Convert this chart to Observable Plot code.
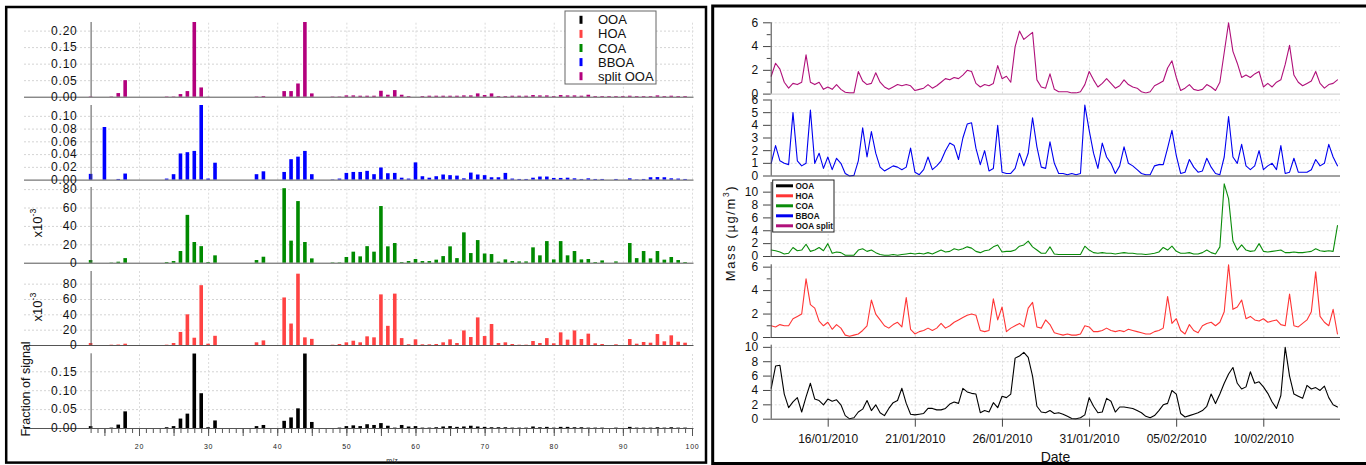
<!DOCTYPE html>
<html><head><meta charset="utf-8">
<script src="https://cdn.jsdelivr.net/npm/d3@7"></script>
<script src="https://cdn.jsdelivr.net/npm/@observablehq/plot@0.6"></script>
<style>
body{margin:0;background:#fff;}
#root{position:relative;width:1366px;height:465px;overflow:hidden;background:#fff;}
#root svg{position:absolute;left:0;top:0;max-width:none;}
</style></head>
<body><div id="root"></div>
<script>
// ---------------- DATA ----------------
const mzValues = d3.range(13, 101); // m/z 13..100
const mzGrid = [20, 30, 40, 50, 60, 70, 80, 90, 100];
const mzMajor = [15, 20, 25, 30, 35, 40, 45, 50, 55, 60, 65, 70, 75, 80, 85, 90, 95, 100];

const ooaSpec = [0.005,0,0,0.001,0.009,0.044,0,0,0,0,
 0,0.002,0.005,0.025,0.038,0.197,0.092,0.002,0.020,0,
 0,0,0,0,0.005,0.008,0,0,0.019,0.028,
 0.052,0.197,0.016,0,0,0,0.001,0.005,0.007,0.005,
 0.010,0.008,0.013,0.006,0.001,0.008,0.004,0.005,0.001,0.001,
 0.002,0.004,0.005,0.003,0.004,0.006,0.004,0.003,0.002,0.002,
 0.002,0.001,0.001,0.001,0.004,0.002,0.003,0.001,0.003,0.003,
 0.002,0.002,0.001,0.001,0.001,0,0.001,0,0.003,0.001,
 0.001,0.001,0.002,0.001,0.002,0.001,0.001,0];
const hoaSpec = [2.6,0,0,0.4,0.6,1.7,0,0,0,0,
 0,0.4,2.6,17,40,9.5,78,1.7,12,0,
 0,0,0,0,3.5,6,0,0,62,28,
 93,10,8,0,0,0.4,1.3,3.5,5.6,3.5,
 11.3,10,66,25,67,9,1,7.4,0.9,0.9,
 1.3,3.5,7.4,2.6,19,10.4,36,11.7,27.4,2.6,
 3.5,1.3,0.4,0.4,5.2,2.6,9,2.2,16.5,7,
 19,7.8,14.8,2.2,1.3,0,0.9,0,7.8,1.7,
 3.9,3,14.3,4.8,12.6,4.3,3,0];
const coaSpec = [2.9,0,0,0.3,1.1,5,0,0,0,0,
 0,0.7,1.8,12.7,52,22.5,18,0.7,8,0,
 0,0,0,0,2.9,6.5,0,0,81,24,
 67,22.5,4.7,0,0,0.4,0.4,6.2,12,6.9,
 18,12,61.6,17.8,21.4,0.7,1.8,4,1.8,1.8,
 3.3,7.2,17.8,5,33,10.5,24.6,10,9.4,1.1,
 3.6,1.8,1.4,1.4,16.7,8,23.5,3.6,23.5,8,
 12.7,3.6,4,0.7,2.5,0,1.4,0,21.4,5,
 12.7,4.7,12.7,3.3,6.2,2.9,0.7,0];
const bboaSpec = [0.009,0,0.0825,0,0.001,0.0095,0,0,0,0,
 0,0.0016,0.0085,0.041,0.043,0.045,0.117,0.0016,0.0265,0,
 0,0,0,0,0.0085,0.013,0,0,0.012,0.032,
 0.036,0.045,0.0085,0,0,0.0005,0.0016,0.0105,0.012,0.012,
 0.0137,0.0085,0.019,0.010,0.0105,0.003,0.0016,0.027,0.0053,0.003,
 0.0053,0.008,0.007,0.0063,0.002,0.011,0.008,0.007,0.0037,0.0037,
 0.0105,0.0016,0.001,0.001,0.003,0.0048,0.0048,0.0026,0.0026,0.003,
 0.002,0.001,0.002,0.001,0.001,0,0.001,0,0.002,0.0005,
 0.001,0.0037,0.004,0.0037,0.002,0.0016,0.001,0];
const splitSpec = [0.001,0,0,0.001,0.011,0.050,0,0,0,0,
 0,0.001,0.001,0.008,0.017,0.226,0.028,0.0005,0,0,
 0,0,0,0,0.001,0.002,0,0,0.017,0.017,
 0.040,0.226,0.010,0,0,0.001,0.001,0.004,0.004,0.003,
 0.003,0.003,0.018,0.006,0.020,0.006,0.002,0,0.002,0.003,
 0.003,0.003,0.003,0.003,0.004,0.004,0.010,0.005,0.010,0.002,
 0.002,0.003,0.003,0.003,0.005,0.004,0.004,0.002,0.005,0.004,
 0.004,0.003,0.006,0.002,0.002,0.002,0.002,0.002,0.003,0.002,
 0.002,0.002,0.004,0.002,0.003,0.002,0.002,0];

// time series, 6-hourly samples starting 12/01/2010 17:30 UTC
const tsStart = "2010-01-12T17:30:00Z";
const tsStepHours = 6;
const tsEnd = "2010-02-14T09:40:00Z";
const dateTickLabels = ["16/01/2010","21/01/2010","26/01/2010","31/01/2010","05/02/2010","10/02/2010"];

const splitTS = [1.5,2.6,2.1,1.0,0.5,0.9,0.8,1.0,3.3,1.0,
 0.8,1.0,0.4,0.6,0.4,0.8,0.4,0.15,0.1,0.1,
 1.9,1.1,0.8,0.9,1.8,1.0,0.6,0.4,0.6,0.8,
 0.7,0.8,0.7,0.3,0.4,0.5,0.8,0.5,0.7,1.0,
 1.3,1.2,1.4,1.3,1.6,2.0,1.9,0.9,0.6,0.8,
 0.7,0.9,2.4,1.3,1.5,1.0,4.0,5.3,4.6,4.9,
 5.2,1.2,0.6,0.5,1.7,0.4,0.2,0.2,0.2,0.1,
 0.1,0.2,0.8,1.9,1.2,0.6,0.9,1.3,0.9,0.5,
 0.7,1.2,0.8,0.6,0.5,0.2,0.1,0.2,0.7,0.9,
 1.1,2.2,2.8,1.4,0.3,0.5,0.8,0.4,0.3,0.4,
 0.8,0.6,0.3,1.0,3.5,6.0,3.6,2.6,1.4,1.6,
 1.4,1.7,1.9,0.6,0.9,0.6,1.0,1.2,2.5,4.1,
 1.6,1.0,0.7,0.9,1.1,1.9,0.9,0.5,0.8,0.9,1.2];
const bboaTS = [1.0,2.4,1.2,1.0,0.9,5.0,1.2,0.8,1.0,5.2,
 1.0,1.8,0.6,1.5,0.5,1.4,1.0,0.2,0.0,0.05,
 1.2,3.8,1.5,3.5,1.8,0.7,0.4,0.6,0.8,0.7,
 0.5,0.7,2.2,0.3,0.1,0.5,1.5,0.5,0.8,1.2,
 2.0,2.6,2.4,1.3,3.0,4.1,4.2,2.2,0.9,2.0,
 0.4,0.6,4.0,0.3,0.2,0.2,0.6,1.8,0.8,1.8,
 4.6,2.3,0.7,0.6,2.7,1.0,0.2,0.2,0.1,0.2,
 0.1,0.2,5.6,3.6,1.8,0.6,2.6,1.5,1.0,0.2,
 0.8,2.3,1.0,0.8,0.5,0.2,0.1,0.1,0.8,0.9,
 0.9,2.2,3.6,1.6,0.2,0.3,1.3,0.7,0.3,0.4,
 1.4,0.7,0.2,0.1,1.5,4.7,1.5,1.0,2.5,0.8,
 0.5,0.8,2.0,0.5,0.8,1.0,0.5,2.4,0.2,0.3,
 1.4,0.3,0.3,0.3,0.5,1.3,0.8,1.0,2.5,1.5,0.8];
const coaTS = [1.0,0.9,0.7,0.4,0.5,1.4,0.9,1.0,1.9,0.8,
 1.0,1.4,0.9,2.0,0.5,0.7,0.6,0.2,0.2,0.2,
 1.0,1.2,0.8,1.0,0.6,0.3,0.2,0.2,0.3,0.2,
 0.3,0.4,0.5,0.4,0.5,0.4,0.6,0.4,0.7,1.0,
 0.7,0.8,1.2,1.0,1.2,1.5,1.3,0.8,0.6,0.9,
 1.0,1.5,1.8,0.7,0.8,0.8,1.0,1.6,1.8,2.4,
 1.5,1.0,0.5,0.5,1.5,0.4,0.3,0.3,0.3,0.3,
 0.3,0.3,1.6,1.0,0.6,0.5,0.6,0.5,0.5,0.4,
 0.5,0.6,0.5,0.5,0.4,0.4,0.3,0.4,0.5,0.7,
 1.4,1.0,1.6,0.8,0.5,0.5,0.6,0.4,0.4,0.6,
 1.0,0.6,0.4,1.5,11.3,9.0,2.4,1.0,1.8,1.0,
 0.8,0.9,2.0,0.8,0.7,0.8,0.9,1.0,0.6,0.6,
 0.7,0.6,0.6,0.7,0.8,1.2,0.9,0.8,0.9,0.8,4.8];
const hoaTS = [1.0,0.9,1.1,1.0,1.0,1.6,1.8,2.0,5.0,2.8,
 2.5,1.4,1.0,1.3,0.7,1.1,0.8,0.2,0.1,0.2,
 0.3,0.6,1.0,3.2,2.0,1.5,1.0,0.8,1.1,1.3,
 0.9,3.4,0.7,0.3,0.5,0.6,0.8,0.6,0.8,1.2,
 0.8,1.0,1.3,1.5,1.7,1.9,2.0,1.9,0.6,0.5,
 0.6,3.3,1.5,2.6,0.5,0.8,1.0,1.2,0.9,2.5,
 3.0,0.9,0.8,1.5,1.1,0.4,0.3,0.2,0.3,0.2,
 0.2,0.3,1.0,0.9,0.5,0.5,0.6,0.8,0.6,0.5,
 0.6,0.5,0.7,0.6,0.5,0.4,0.3,0.3,0.5,0.6,
 0.8,3.5,1.2,1.6,0.6,0.3,1.1,0.6,0.4,1.0,
 1.2,1.3,1.0,1.3,2.2,6.2,2.4,2.6,3.2,1.6,
 1.8,1.5,1.4,1.6,1.3,1.4,1.5,1.1,1.0,3.7,
 1.0,0.9,1.2,1.5,2.2,5.6,1.8,1.3,1.0,2.4,0.3];
const ooaTS = [4.3,7.4,7.5,3.5,1.6,2.4,3.0,1.0,3.1,5.0,
 2.8,2.6,2.0,2.8,2.5,2.7,2.0,0.5,0.05,0.2,
 1.0,1.4,2.6,1.2,2.0,0.9,0.5,1.5,2.3,2.6,
 4.3,2.2,0.7,0.6,0.7,0.8,1.5,1.5,1.3,1.3,
 1.5,2.1,2.4,2.2,4.3,3.8,3.6,3.5,0.9,1.2,
 1.0,2.3,1.6,3.2,3.0,3.5,8.5,8.8,9.3,8.6,
 6.0,1.8,1.0,0.9,1.2,0.8,0.9,0.7,0.4,0.1,
 0.05,0.2,0.6,3.0,1.8,0.9,1.0,2.9,2.5,1.0,
 1.7,1.7,1.6,1.5,1.2,0.9,0.4,0.2,0.5,1.2,
 2.0,2.2,4.0,3.5,0.8,0.3,0.5,0.7,0.9,1.2,
 1.8,3.5,2.2,3.5,5.0,6.3,7.2,5.0,4.2,4.5,
 6.6,5.0,5.2,4.5,3.6,2.4,1.5,3.3,10.0,6.0,
 3.5,3.2,2.9,4.7,4.2,4.4,4.0,4.6,3.0,2.0,1.7];

const legendLeft = ["OOA", "HOA", "COA", "BBOA", "split OOA"];
const legendRight = ["OOA", "HOA", "COA", "BBOA", "OOA split"];
const barColors = {OOA: "#000000", HOA: "#ff4343", COA: "#008a00", BBOA: "#0000ff", "split OOA": "#b3007d"};
const lineColors = {OOA: "#000000", HOA: "#ff3535", COA: "#0a8c0a", BBOA: "#0000f0", "OOA split": "#b0107a"};

// ---------------- LAYOUT ----------------
const W = 1366, H = 465;
const FONT = "'Liberation Sans', Arial, Helvetica, sans-serif";
const root = document.getElementById("root");
const baseStyle = {background: "transparent", overflow: "visible", fontFamily: FONT};

function spaceText(svg, ls) {
  svg.querySelectorAll("text").forEach(t => t.style.letterSpacing = ls);
}

// Left panel: mass spectra
const LX0 = 90.6, LX1 = 692;
const f2 = d3.format(".2f"), fd = d3.format("d");
const leftCfg = [
  {key: "split OOA", values: splitSpec, top: 22, bottom: 96.7, max: 0.226, ticks: [0, 0.05, 0.10, 0.15, 0.20], fmt: f2},
  {key: "BBOA", values: bboaSpec, top: 105, bottom: 179.6, max: 0.117, ticks: [0, 0.02, 0.04, 0.06, 0.08, 0.10], fmt: f2},
  {key: "COA", values: coaSpec, top: 187, bottom: 262.7, max: 82.3, ticks: [0, 20, 40, 60, 80], fmt: fd},
  {key: "HOA", values: hoaSpec, top: 271, bottom: 345, max: 96.5, ticks: [0, 20, 40, 60, 80], fmt: fd},
  {key: "OOA", values: ooaSpec, top: 353.3, bottom: 428, max: 0.1976, ticks: [0, 0.05, 0.10, 0.15], fmt: f2, xaxis: true}
];
const xupp = (100 - 13) / (LX1 - LX0);
const xl = 13 - (LX0 - 24) * xupp, xr = 100 + 1.5 * xupp;

leftCfg.forEach(c => {
  const upp = c.max / (c.bottom - c.top);
  const data = mzValues.map((mz, i) => ({mz, v: c.values[i]})).filter(d => d.v > 0);
  const marks = [
    Plot.ruleY(c.ticks.filter(t => t > 0), {x1: xl, x2: xr, stroke: "#d4d4d4", strokeDasharray: "2,2"}),
    Plot.ruleX(mzGrid, {y1: 0, y2: c.max, stroke: "#dcdcdc", strokeDasharray: "2,2"}),
    Plot.rect(data, {x1: d => d.mz - 0.26, x2: d => d.mz + 0.26, y1: 0, y2: "v", fill: barColors[c.key]}),
    Plot.ruleY([0], {x1: xl, x2: xr, stroke: "#555"}),
    Plot.ruleX([13], {y1: 0, y2: c.max, stroke: "#555"}),
    Plot.text(c.ticks, {x: 13, y: d => d, text: d => c.fmt(d), dx: -13.5, textAnchor: "end", fontSize: 12, fill: "#111"})
  ];
  if (c.xaxis) {
    marks.push(
      Plot.ruleX(mzValues, {y1: 0, y2: -5 * upp, stroke: "#555"}),
      Plot.ruleX(mzMajor, {y1: 0, y2: -8 * upp, stroke: "#555"}),
      Plot.text(mzGrid, {x: d => d, y: 0, dy: 18.7, text: d => String(d), fontSize: 7, fill: "#222"})
    );
  }
  const svg = Plot.plot({
    width: W, height: H,
    marginLeft: LX0, marginRight: W - LX1, marginTop: c.top, marginBottom: H - c.bottom,
    x: {domain: [13, 100], axis: null},
    y: {domain: [0, c.max], axis: null},
    style: baseStyle,
    marks
  });
  svg.querySelectorAll("text").forEach(t => { if (+t.getAttribute("font-size") !== 7) t.style.letterSpacing = "0.8px"; });
  root.appendChild(svg);
});

// Right panel: time series
const RX0 = 770.7, RX1 = 1340;
const t0 = new Date(tsStart), t1 = new Date(tsEnd);
const msPerPx = (t1 - t0) / (RX1 - RX0);
const parseD = d3.utcParse("%d/%m/%Y");
const dateTicks = dateTickLabels.map(parseD);
const rightCfg = [
  {key: "OOA split", values: splitTS, top: 22.3, bottom: 93.6, max: 6, ticks: [0, 2, 4, 6], minor: [1, 3, 5], base: "#c8c8c8"},
  {key: "BBOA", values: bboaTS, top: 99.5, bottom: 175.5, max: 6, ticks: [0, 1, 2, 3, 4, 5, 6], minor: []},
  {key: "COA", values: coaTS, top: 182, bottom: 256, max: 11.5, ticks: [0, 2, 4, 6, 8, 10], minor: []},
  {key: "HOA", values: hoaTS, top: 264.3, bottom: 337, max: 6.2, ticks: [0, 2, 4, 6], minor: [1, 3, 5]},
  {key: "OOA", values: ooaTS, top: 344.7, bottom: 418.7, max: 10.3, ticks: [0, 2, 4, 6, 8, 10], minor: [], xaxis: true}
];
rightCfg.forEach(c => {
  const upp = c.max / (c.bottom - c.top);
  const series = c.values.map((v, i) => ({date: d3.utcHour.offset(t0, i * tsStepHours), v}));
  const marks = [
    Plot.ruleY(c.ticks.filter(t => t > 0), {stroke: "#dcdcdc", strokeDasharray: "2,2"}),
    Plot.ruleX(dateTicks, {y1: 0, y2: c.max, stroke: "#dcdcdc", strokeDasharray: "2,2"}),
    Plot.lineY(series, {x: "date", y: "v", stroke: lineColors[c.key], strokeWidth: 1.1}),
    Plot.ruleY([0], {stroke: c.base || "#444"}),
    Plot.ruleX([t0], {y1: 0, y2: c.max, stroke: "#444"}),
    Plot.ruleY(c.ticks, {x1: new Date(+t0 - 7.7 * msPerPx), x2: t0, stroke: "#444"}),
    Plot.ruleY(c.minor, {x1: new Date(+t0 - 4 * msPerPx), x2: t0, stroke: "#444"}),
    Plot.text(c.ticks, {x: t0, y: d => d, text: d => String(d), dx: -13, textAnchor: "end", fontSize: 12, fill: "#111"})
  ];
  if (c.xaxis) {
    marks.push(
      Plot.ruleX(dateTicks, {y1: 0, y2: -8 * upp, stroke: "#444"}),
      Plot.text(dateTicks, {x: d => d, y: 0, dy: 19.5, text: (d, i) => dateTickLabels[i], fontSize: 12, fill: "#111"})
    );
  }
  const svg = Plot.plot({
    width: W, height: H,
    marginLeft: RX0, marginRight: W - RX1, marginTop: c.top, marginBottom: H - c.bottom,
    x: {type: "utc", domain: [t0, t1], axis: null},
    y: {domain: [0, c.max], axis: null},
    style: baseStyle,
    marks
  });
  root.appendChild(svg);
});

// Overlay: borders, legends, axis titles
const ov = d3.create("svg").attr("width", W).attr("height", H).style("font-family", FONT);
ov.append("rect").attr("x", 6.2).attr("y", 7).attr("width", 706 - 6.2).attr("height", 462.6 - 7)
  .attr("fill", "none").attr("stroke", "#000").attr("stroke-width", 2.5);
ov.append("rect").attr("x", 712.7).attr("y", 6).attr("width", 700).attr("height", 457.5)
  .attr("fill", "none").attr("stroke", "#000").attr("stroke-width", 3);

// left legend
const lg = ov.append("g");
lg.append("rect").attr("x", 565).attr("y", 11).attr("width", 91).attr("height", 73)
  .attr("fill", "#fff").attr("stroke", "#666").attr("stroke-width", 1);
legendLeft.forEach((name, i) => {
  const cy = 19.8 + 14.1 * i;
  lg.append("rect").attr("x", 579.5).attr("y", cy - 4).attr("width", 3).attr("height", 8).attr("fill", barColors[name]);
  lg.append("text").attr("x", 598).attr("y", cy).attr("dy", "0.35em").attr("font-size", 13).attr("fill", "#111").text(name);
});

// right legend
const rg = ov.append("g");
rg.append("rect").attr("x", 772.7).attr("y", 180).attr("width", 61.3).attr("height", 52)
  .attr("fill", "#fff").attr("stroke", "#222").attr("stroke-width", 1);
legendRight.forEach((name, i) => {
  const cy = 185.8 + 10 * i;
  rg.append("line").attr("x1", 776).attr("x2", 793).attr("y1", cy).attr("y2", cy)
    .attr("stroke", lineColors[name]).attr("stroke-width", 3);
  rg.append("text").attr("x", 795.5).attr("y", cy).attr("dy", "0.35em").attr("font-size", 8.2)
    .attr("font-weight", "bold").attr("fill", "#111").text(name);
});

// axis titles
function vtext(x, y, size, str, sup, ls) {
  const t = ov.append("text").attr("transform", `translate(${x},${y}) rotate(-90)`)
    .attr("text-anchor", "middle").attr("dy", "0.35em").attr("font-size", size).attr("fill", "#111");
  if (ls) t.style("letter-spacing", ls);
  t.append("tspan").text(str);
  if (sup) t.append("tspan").attr("font-size", size * 0.68).attr("dy", -size * 0.45).text(sup);
  return t;
}
vtext(25.5, 389, 12.5, "Fraction of signal");
vtext(37, 223, 13, "x10", "-3");
vtext(37, 307, 13, "x10", "-3");
const mass = ov.append("text").attr("transform", "translate(730,233) rotate(-90)")
  .attr("text-anchor", "middle").attr("dy", "0.35em").attr("font-size", 13).attr("fill", "#111")
  .style("letter-spacing", "1.6px");
mass.append("tspan").text("Mass (µg/m");
mass.append("tspan").attr("font-size", 8.5).attr("dy", -6).text("3");
mass.append("tspan").attr("dy", 6).text(")");
ov.append("text").attr("x", 1055.5).attr("y", 461.5).attr("text-anchor", "middle").attr("font-size", 14).attr("fill", "#111").text("Date");
ov.append("text").attr("x", 392).attr("y", 462.5).attr("text-anchor", "middle").attr("font-size", 7).attr("fill", "#222").text("m/z");
root.appendChild(ov.node());
</script>
</body></html>
